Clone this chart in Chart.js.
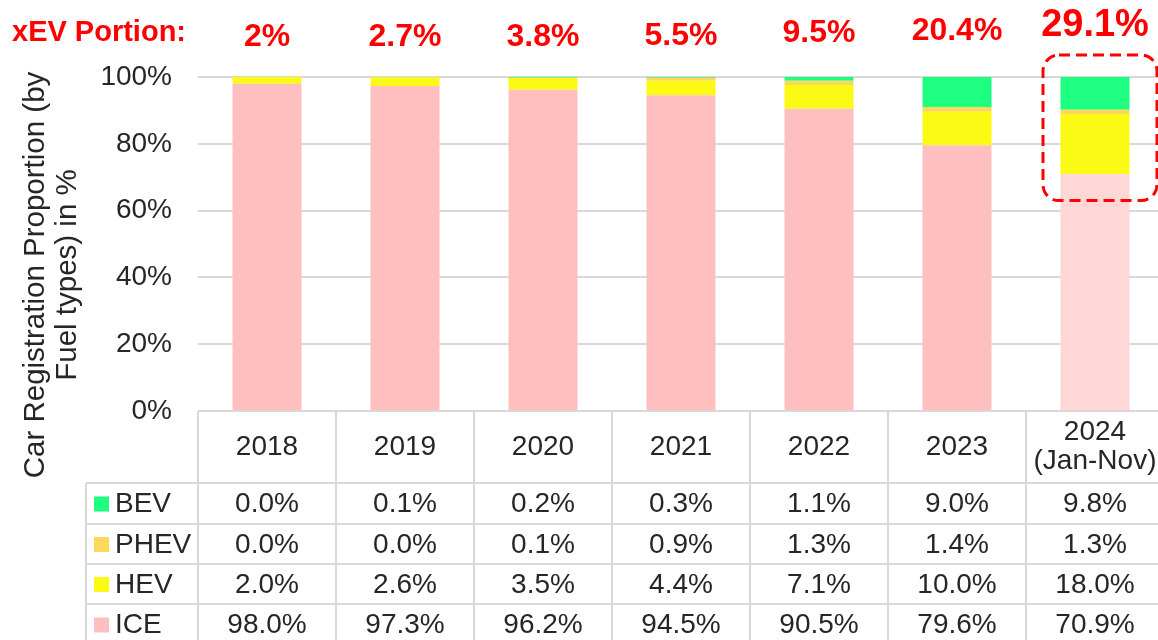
<!DOCTYPE html>
<html>
<head>
<meta charset="utf-8">
<script src="https://cdn.jsdelivr.net/npm/chart.js@4.4.1/dist/chart.umd.min.js"></script>
<style>
html,body{margin:0;padding:0;background:#fff;overflow:hidden;}
canvas{display:block;}
</style>
</head>
<body>
<canvas id="c" width="1164" height="640"></canvas>
<script>
// ---- data ----
const categories = ['2018', '2019', '2020', '2021', '2022', '2023', ['2024', '(Jan-Nov)']];
const bev  = [0.0, 0.1, 0.2, 0.3, 1.1, 9.0, 9.8];
const phev = [0.0, 0.0, 0.1, 0.9, 1.3, 1.4, 1.3];
const hev  = [2.0, 2.6, 3.5, 4.4, 7.1, 10.0, 18.0];
const ice  = [98.0, 97.3, 96.2, 94.5, 90.5, 79.6, 70.9];
const xevPortion = ['2%', '2.7%', '3.8%', '5.5%', '9.5%', '20.4%', '29.1%'];
const yTicks = [0, 20, 40, 60, 80, 100];

// ---- styles / layout (not data) ----
const FONT = '"Liberation Sans", Arial, sans-serif';
const TXT = '#262626';
const GRID = '#d9d9d9';
const colors = {BEV: '#1EFF82', PHEV: '#FFD75A', HEV: '#FAFA14', ICE: '#FFBFBF', ICE_LAST: '#FFD7D7'};
const labelCenterY = [37, 37, 37, 36, 33, 31, 26];
const labelSize = [32, 32, 32, 32, 32, 32, 38];
const rowEdges = [411, 483, 524, 564, 604, 645];
const tableLeft = 86;

const series = [
  {name: 'ICE', values: ice},
  {name: 'HEV', values: hev},
  {name: 'PHEV', values: phev},
  {name: 'BEV', values: bev}
];

const datasets = series.map(s => ({
  label: s.name,
  data: s.values,
  backgroundColor: s.name === 'ICE'
    ? s.values.map((v, i) => i === s.values.length - 1 ? colors.ICE_LAST : colors.ICE)
    : colors[s.name],
  borderWidth: 0,
  barPercentage: 0.5,
  categoryPercentage: 1.0
}));

const tablePlugin = {
  id: 'tablePlugin',
  afterDraw(chart) {
    const ctx = chart.ctx;
    const xs = chart.scales.x;
    const ys = chart.scales.y;
    const n = categories.length;
    const colW = xs.getPixelForValue(1) - xs.getPixelForValue(0);
    const left0 = xs.getPixelForValue(0) - colW / 2;
    ctx.save();

    // table grid
    ctx.strokeStyle = GRID;
    ctx.lineWidth = 2;
    ctx.beginPath();
    for (let r = 1; r < rowEdges.length; r++) {
      ctx.moveTo(tableLeft, rowEdges[r]);
      ctx.lineTo(left0 + colW * n, rowEdges[r]);
    }
    for (let c = 0; c <= n; c++) {
      const x = left0 + c * colW;
      ctx.moveTo(x, rowEdges[0]);
      ctx.lineTo(x, rowEdges[rowEdges.length - 1]);
    }
    ctx.moveTo(tableLeft, rowEdges[1]);
    ctx.lineTo(tableLeft, rowEdges[rowEdges.length - 1]);
    ctx.stroke();

    // header
    ctx.fillStyle = TXT;
    ctx.font = '28px ' + FONT;
    ctx.textAlign = 'center';
    ctx.textBaseline = 'middle';
    const hMid = (rowEdges[0] + rowEdges[1]) / 2;
    categories.forEach((cat, i) => {
      const cx = xs.getPixelForValue(i);
      if (Array.isArray(cat)) {
        const lh = 29;
        cat.forEach((line, k) => {
          ctx.fillText(line, cx, hMid + (k - (cat.length - 1) / 2) * lh);
        });
      } else {
        ctx.fillText(cat, cx, hMid);
      }
    });

    // rows (BEV, PHEV, HEV, ICE)
    const rows = [series[3], series[2], series[1], series[0]];
    rows.forEach((s, r) => {
      const top = rowEdges[r + 1], bot = rowEdges[r + 2];
      const mid = (top + bot) / 2 + 1;
      ctx.fillStyle = colors[s.name];
      ctx.fillRect(94, mid - 8, 15, 15);
      ctx.fillStyle = TXT;
      ctx.textAlign = 'left';
      ctx.fillText(s.name, 115, mid);
      ctx.textAlign = 'center';
      s.values.forEach((v, i) => {
        ctx.fillText(v.toFixed(1) + '%', xs.getPixelForValue(i), mid);
      });
    });

    // y axis title
    ctx.fillStyle = TXT;
    ctx.font = '29.5px ' + FONT;
    ctx.textAlign = 'center';
    ctx.textBaseline = 'middle';
    ctx.translate(36, 275);
    ctx.rotate(-Math.PI / 2);
    ctx.fillText('Car Registration Proportion (by', 0, 0);
    ctx.fillText('Fuel types) in %', 0, 32);
    ctx.restore();

    // xEV portion labels
    ctx.save();
    ctx.fillStyle = '#FF0000';
    ctx.textBaseline = 'middle';
    ctx.textAlign = 'left';
    ctx.font = 'bold 29px ' + FONT;
    ctx.fillText('xEV Portion:', 12, 33);
    ctx.textAlign = 'center';
    xevPortion.forEach((t, i) => {
      ctx.font = 'bold ' + labelSize[i] + 'px ' + FONT;
      ctx.fillText(t, xs.getPixelForValue(i), labelCenterY[i]);
    });

    // dashed highlight box around the last bar
    const cx = xs.getPixelForValue(n - 1);
    const bx = cx - 52, bw = 114;
    const by = ys.getPixelForValue(100) - 22;
    const bh = ys.getPixelForValue(63.0) - by;
    ctx.strokeStyle = '#FF0000';
    ctx.lineWidth = 3;
    ctx.setLineDash([11, 6]);
    ctx.beginPath();
    ctx.roundRect(bx, by, bw, bh, 16);
    ctx.stroke();
    ctx.restore();
  }
};

new Chart(document.getElementById('c'), {
  type: 'bar',
  data: {labels: categories, datasets: datasets},
  options: {
    responsive: false,
    animation: false,
    devicePixelRatio: 1,
    layout: {padding: {top: 77, left: 0, right: 0, bottom: 229}},
    plugins: {legend: {display: false}, tooltip: {enabled: false}},
    scales: {
      x: {
        stacked: true,
        display: false,
        grid: {display: false}
      },
      y: {
        stacked: true,
        min: 0,
        max: 100,
        afterFit(scale) { scale.width = 198; },
        afterBuildTicks(scale) { scale.ticks = yTicks.map(v => ({value: v})); },
        border: {display: false},
        grid: {color: GRID, lineWidth: 2, drawTicks: false},
        ticks: {
          padding: 26,
          color: TXT,
          font: {family: FONT, size: 28},
          callback: v => v + '%'
        }
      }
    }
  },
  plugins: [tablePlugin]
});
</script>
</body>
</html>
